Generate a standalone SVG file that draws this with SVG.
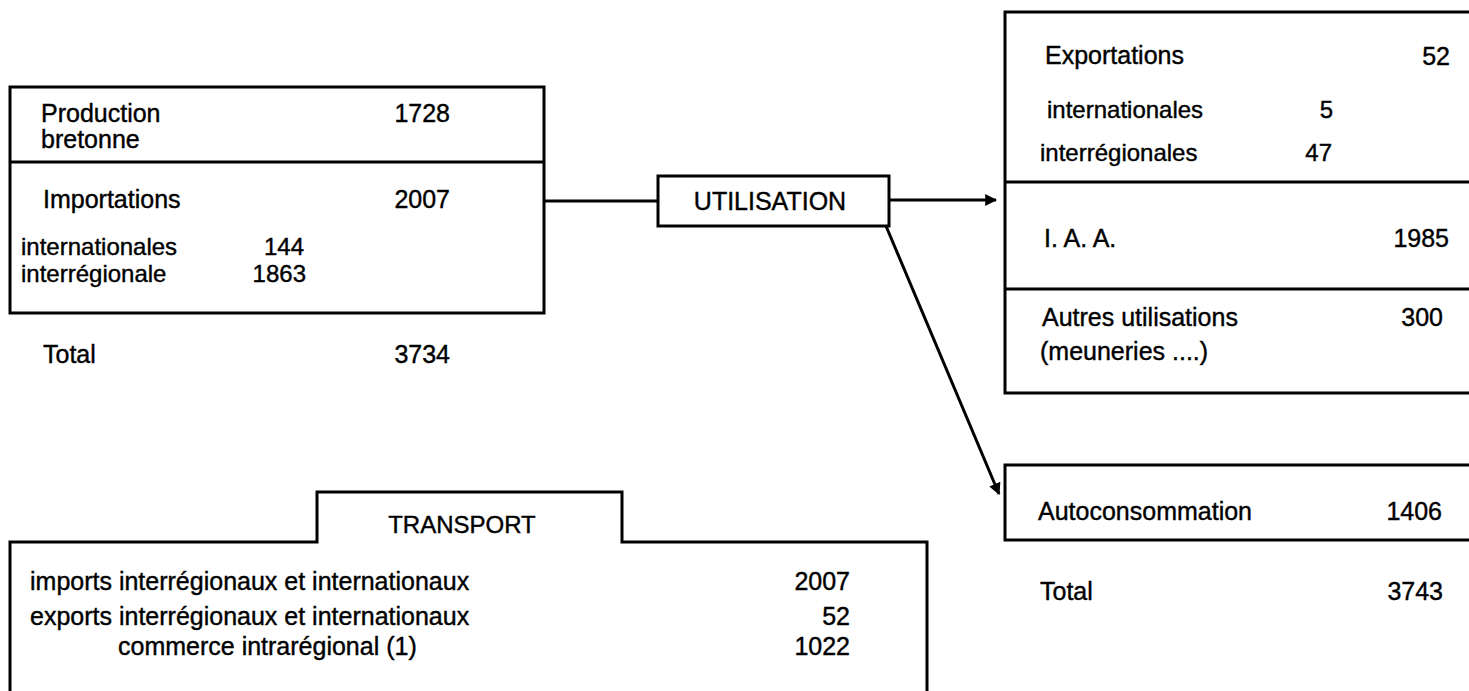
<svg xmlns="http://www.w3.org/2000/svg" width="1469" height="691" viewBox="0 0 1469 691">
<style>
.ln{fill:none;stroke:#000;stroke-width:3}
text{font-family:"Liberation Sans",Arial,sans-serif;font-size:25px;fill:#000;stroke:#000;stroke-width:0.4}
.s{font-size:24px}
.r{text-anchor:end}
</style>
<defs>
<marker id="ah" viewBox="0 0 10 10" refX="9" refY="5" markerWidth="4" markerHeight="4" orient="auto" markerUnits="strokeWidth">
<path d="M0,0 L10,5 L0,10 z" fill="#000"/>
</marker>
</defs>
<rect width="1469" height="691" fill="#fff"/>
<g id="sources">
<rect class="ln" x="10" y="87" width="534" height="226"/>
<line class="ln" x1="10" y1="162" x2="544" y2="162"/>
<text x="41" y="122">Production</text>
<text x="41" y="148">bretonne</text>
<text class="r" x="450" y="122">1728</text>
<text x="43" y="208">Importations</text>
<text class="r" x="450" y="208">2007</text>
<text class="s" x="21" y="255">internationales</text>
<text class="s r" x="304" y="255">144</text>
<text class="s" x="21" y="282">interrégionale</text>
<text class="s r" x="306" y="282">1863</text>
<text x="43" y="363">Total</text>
<text class="r" x="450" y="363">3734</text>
</g>
<g id="utilisation">
<rect class="ln" x="658" y="176" width="231" height="50"/>
<text x="770" y="210" text-anchor="middle">UTILISATION</text>
</g>
<g id="emplois">
<path class="ln" d="M1469,12 L1005,12 L1005,393 L1469,393 M1005,182 L1469,182 M1005,289 L1469,289"/>
<text x="1045" y="64">Exportations</text>
<text class="r" x="1450" y="65">52</text>
<text class="s" x="1047" y="118">internationales</text>
<text class="s r" x="1333" y="118">5</text>
<text class="s" x="1040" y="161">interrégionales</text>
<text class="s r" x="1332" y="161">47</text>
<text x="1044" y="247">I. A. A.</text>
<text class="r" x="1449" y="247">1985</text>
<text x="1042" y="326">Autres utilisations</text>
<text class="r" x="1443" y="326">300</text>
<text x="1040" y="360">(meuneries ....)</text>
</g>
<g id="autoconsommation">
<path class="ln" d="M1469,465 L1005,465 L1005,540 L1469,540"/>
<text x="1038" y="520">Autoconsommation</text>
<text class="r" x="1442" y="520">1406</text>
<text x="1040" y="600">Total</text>
<text class="r" x="1443" y="600">3743</text>
</g>
<g id="transport">
<path class="ln" d="M10,691 L10,542 L317,542 L317,492 L622,492 L622,542 L927,542 L927,691"/>
<text x="462" y="533" text-anchor="middle" class="s">TRANSPORT</text>
<text x="30" y="590">imports interrégionaux et internationaux</text>
<text class="r" x="850" y="590">2007</text>
<text x="30" y="625">exports interrégionaux et internationaux</text>
<text class="r" x="850" y="625">52</text>
<text x="118" y="655">commerce intrarégional (1)</text>
<text class="r" x="850" y="655">1022</text>
</g>
<g id="connectors">
<line class="ln" x1="544" y1="201" x2="658" y2="201"/>
<line class="ln" x1="889" y1="200" x2="996" y2="200" marker-end="url(#ah)"/>
<line class="ln" x1="886" y1="226" x2="999" y2="494" marker-end="url(#ah)"/>
</g>
</svg>
